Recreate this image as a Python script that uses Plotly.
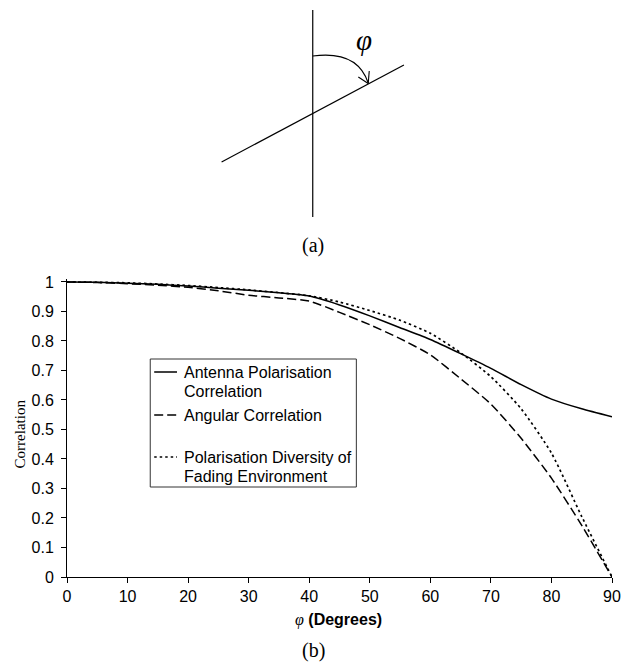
import plotly.graph_objects as go

# ---------------- data ----------------
phi_deg = [0, 5, 10, 15, 20, 25, 30, 35, 40, 45, 50, 55, 60, 65, 70, 75, 80, 85, 90]
antenna_pol_corr = [1.0, 0.999, 0.996, 0.992, 0.986, 0.979, 0.972, 0.963, 0.952, 0.922,
                    0.885, 0.845, 0.805, 0.757, 0.707, 0.652, 0.603, 0.570, 0.543]
angular_corr = [1.0, 0.998, 0.994, 0.989, 0.982, 0.970, 0.955, 0.946, 0.935, 0.897,
                0.855, 0.808, 0.753, 0.672, 0.586, 0.470, 0.335, 0.175, 0.0]
pol_div_fading = [1.0, 0.999, 0.997, 0.993, 0.988, 0.981, 0.973, 0.964, 0.953, 0.932,
                  0.903, 0.870, 0.826, 0.760, 0.679, 0.570, 0.420, 0.205, 0.0]

series_names = ["Antenna Polarisation<br>Correlation", "Angular Correlation",
                "Polarisation Diversity of<br>Fading Environment"]
x_ticks = [0, 10, 20, 30, 40, 50, 60, 70, 80, 90]
y_ticks = [0, 0.1, 0.2, 0.3, 0.4, 0.5, 0.6, 0.7, 0.8, 0.9, 1]
y_tick_labels = ["0", "0.1", "0.2", "0.3", "0.4", "0.5", "0.6", "0.7", "0.8", "0.9", "1"]

# ---------------- layout geometry (pixels) ----------------
W, H = 633, 663
L, R, T, B = 67, 617, 279, 577


def xp(px):
    return (px - L) / (R - L)


def yp(py):
    return (B - py) / (B - T)


SANS = "Liberation Sans, Arial, sans-serif"
SERIF = "Liberation Serif, Times New Roman, serif"

DASH_LONG = "9px,4px"
DASH_DOT = "2.5px,3px"

fig = go.Figure()
fig.add_trace(go.Scatter(x=phi_deg, y=antenna_pol_corr, mode="lines", name=series_names[0],
                         line=dict(color="black", width=1.5, shape="spline", smoothing=0.6)))
fig.add_trace(go.Scatter(x=phi_deg, y=angular_corr, mode="lines", name=series_names[1],
                         line=dict(color="black", width=1.5, dash=DASH_LONG, shape="spline", smoothing=0.6)))
fig.add_trace(go.Scatter(x=phi_deg, y=pol_div_fading, mode="lines", name=series_names[2],
                         line=dict(color="black", width=1.7, dash=DASH_DOT, shape="spline", smoothing=0.6)))

shapes = []
# ---- diagram (a) ----
shapes.append(dict(type="line", xref="paper", yref="paper",
                   x0=xp(315), y0=yp(10), x1=xp(315), y1=yp(217),
                   line=dict(color="black", width=1.2)))
shapes.append(dict(type="line", xref="paper", yref="paper",
                   x0=xp(223), y0=yp(162), x1=xp(407), y1=yp(65),
                   line=dict(color="black", width=1.2)))
arc = "M {} {} Q {} {} {} {}".format(xp(315), yp(56), xp(360), yp(50), xp(371), yp(83))
shapes.append(dict(type="path", xref="paper", yref="paper", path=arc,
                   line=dict(color="black", width=1.1)))
shapes.append(dict(type="line", xref="paper", yref="paper",
                   x0=xp(361), y0=yp(77), x1=xp(371), y1=yp(83.5),
                   line=dict(color="black", width=1.1)))
shapes.append(dict(type="line", xref="paper", yref="paper",
                   x0=xp(372), y0=yp(71), x1=xp(371), y1=yp(83.5),
                   line=dict(color="black", width=1.1)))

# ---- legend box ----
shapes.append(dict(type="rect", xref="paper", yref="paper",
                   x0=xp(151), y0=yp(487), x1=xp(359), y1=yp(359),
                   line=dict(color="#333333", width=1), fillcolor="white", layer="above"))
legend_rows = [(372, None), (415, DASH_LONG), (457, DASH_DOT)]
for py, dash in legend_rows:
    ln = dict(color="black", width=1.7 if dash else 1.5)
    if dash:
        ln["dash"] = dash
    shapes.append(dict(type="line", xref="paper", yref="paper",
                       x0=xp(155), y0=yp(py), x1=xp(178), y1=yp(py), line=ln, layer="above"))

annotations = []
legend_text_lines = [("Antenna Polarisation", 372), ("Correlation", 391),
                     ("Angular Correlation", 415),
                     ("Polarisation Diversity of", 457), ("Fading Environment", 476)]
for txt, py in legend_text_lines:
    annotations.append(dict(text=txt, xref="paper", yref="paper", x=xp(183), y=yp(py),
                            xanchor="left", yanchor="middle", showarrow=False,
                            font=dict(family=SANS, size=16, color="black")))

annotations.append(dict(text="<i>φ</i>", xref="paper", yref="paper", x=xp(367), y=yp(40),
                        xanchor="center", yanchor="middle", showarrow=False,
                        font=dict(family=SERIF, size=29, color="black")))
annotations.append(dict(text="(a)", xref="paper", yref="paper", x=xp(315), y=yp(245),
                        xanchor="center", yanchor="middle", showarrow=False,
                        font=dict(family=SERIF, size=20, color="black")))
annotations.append(dict(text="(b)", xref="paper", yref="paper", x=xp(316), y=yp(650),
                        xanchor="center", yanchor="middle", showarrow=False,
                        font=dict(family=SERIF, size=20, color="black")))
annotations.append(dict(text="<span style='font-family:Liberation Serif'><i>φ</i></span> <b>(Degrees)</b>",
                        xref="paper", yref="paper", x=xp(341), y=yp(620),
                        xanchor="center", yanchor="middle", showarrow=False,
                        font=dict(family=SANS, size=16, color="black")))
annotations.append(dict(text="Correlation", xref="paper", yref="paper", x=xp(20), y=yp(434),
                        xanchor="center", yanchor="middle", showarrow=False, textangle=-90,
                        font=dict(family=SERIF, size=15, color="black")))

fig.update_layout(
    width=W, height=H,
    margin=dict(l=L, r=W - R, t=T, b=H - B, pad=0),
    paper_bgcolor="white", plot_bgcolor="white",
    showlegend=False,
    shapes=shapes, annotations=annotations,
    font=dict(family=SANS, size=16, color="black"),
)
fig.update_xaxes(range=[0, 90], tickvals=x_ticks, ticks="outside", ticklen=5, tickwidth=1,
                 tickcolor="black", showline=True, linecolor="black", linewidth=1,
                 showgrid=False, zeroline=False, tickfont=dict(family=SANS, size=16, color="black"))
fig.update_yaxes(range=[0, 1.01], tickvals=y_ticks, ticktext=y_tick_labels, ticks="outside",
                 ticklen=5, tickwidth=1, tickcolor="black", showline=True, linecolor="black",
                 linewidth=1, showgrid=False, zeroline=False, ticklabelstandoff=4,
                 tickfont=dict(family=SANS, size=16, color="black"))

fig.write_html("out.html", config={"displayModeBar": False},
               post_script="document.body.style.margin='0';document.body.style.overflow='hidden';")
